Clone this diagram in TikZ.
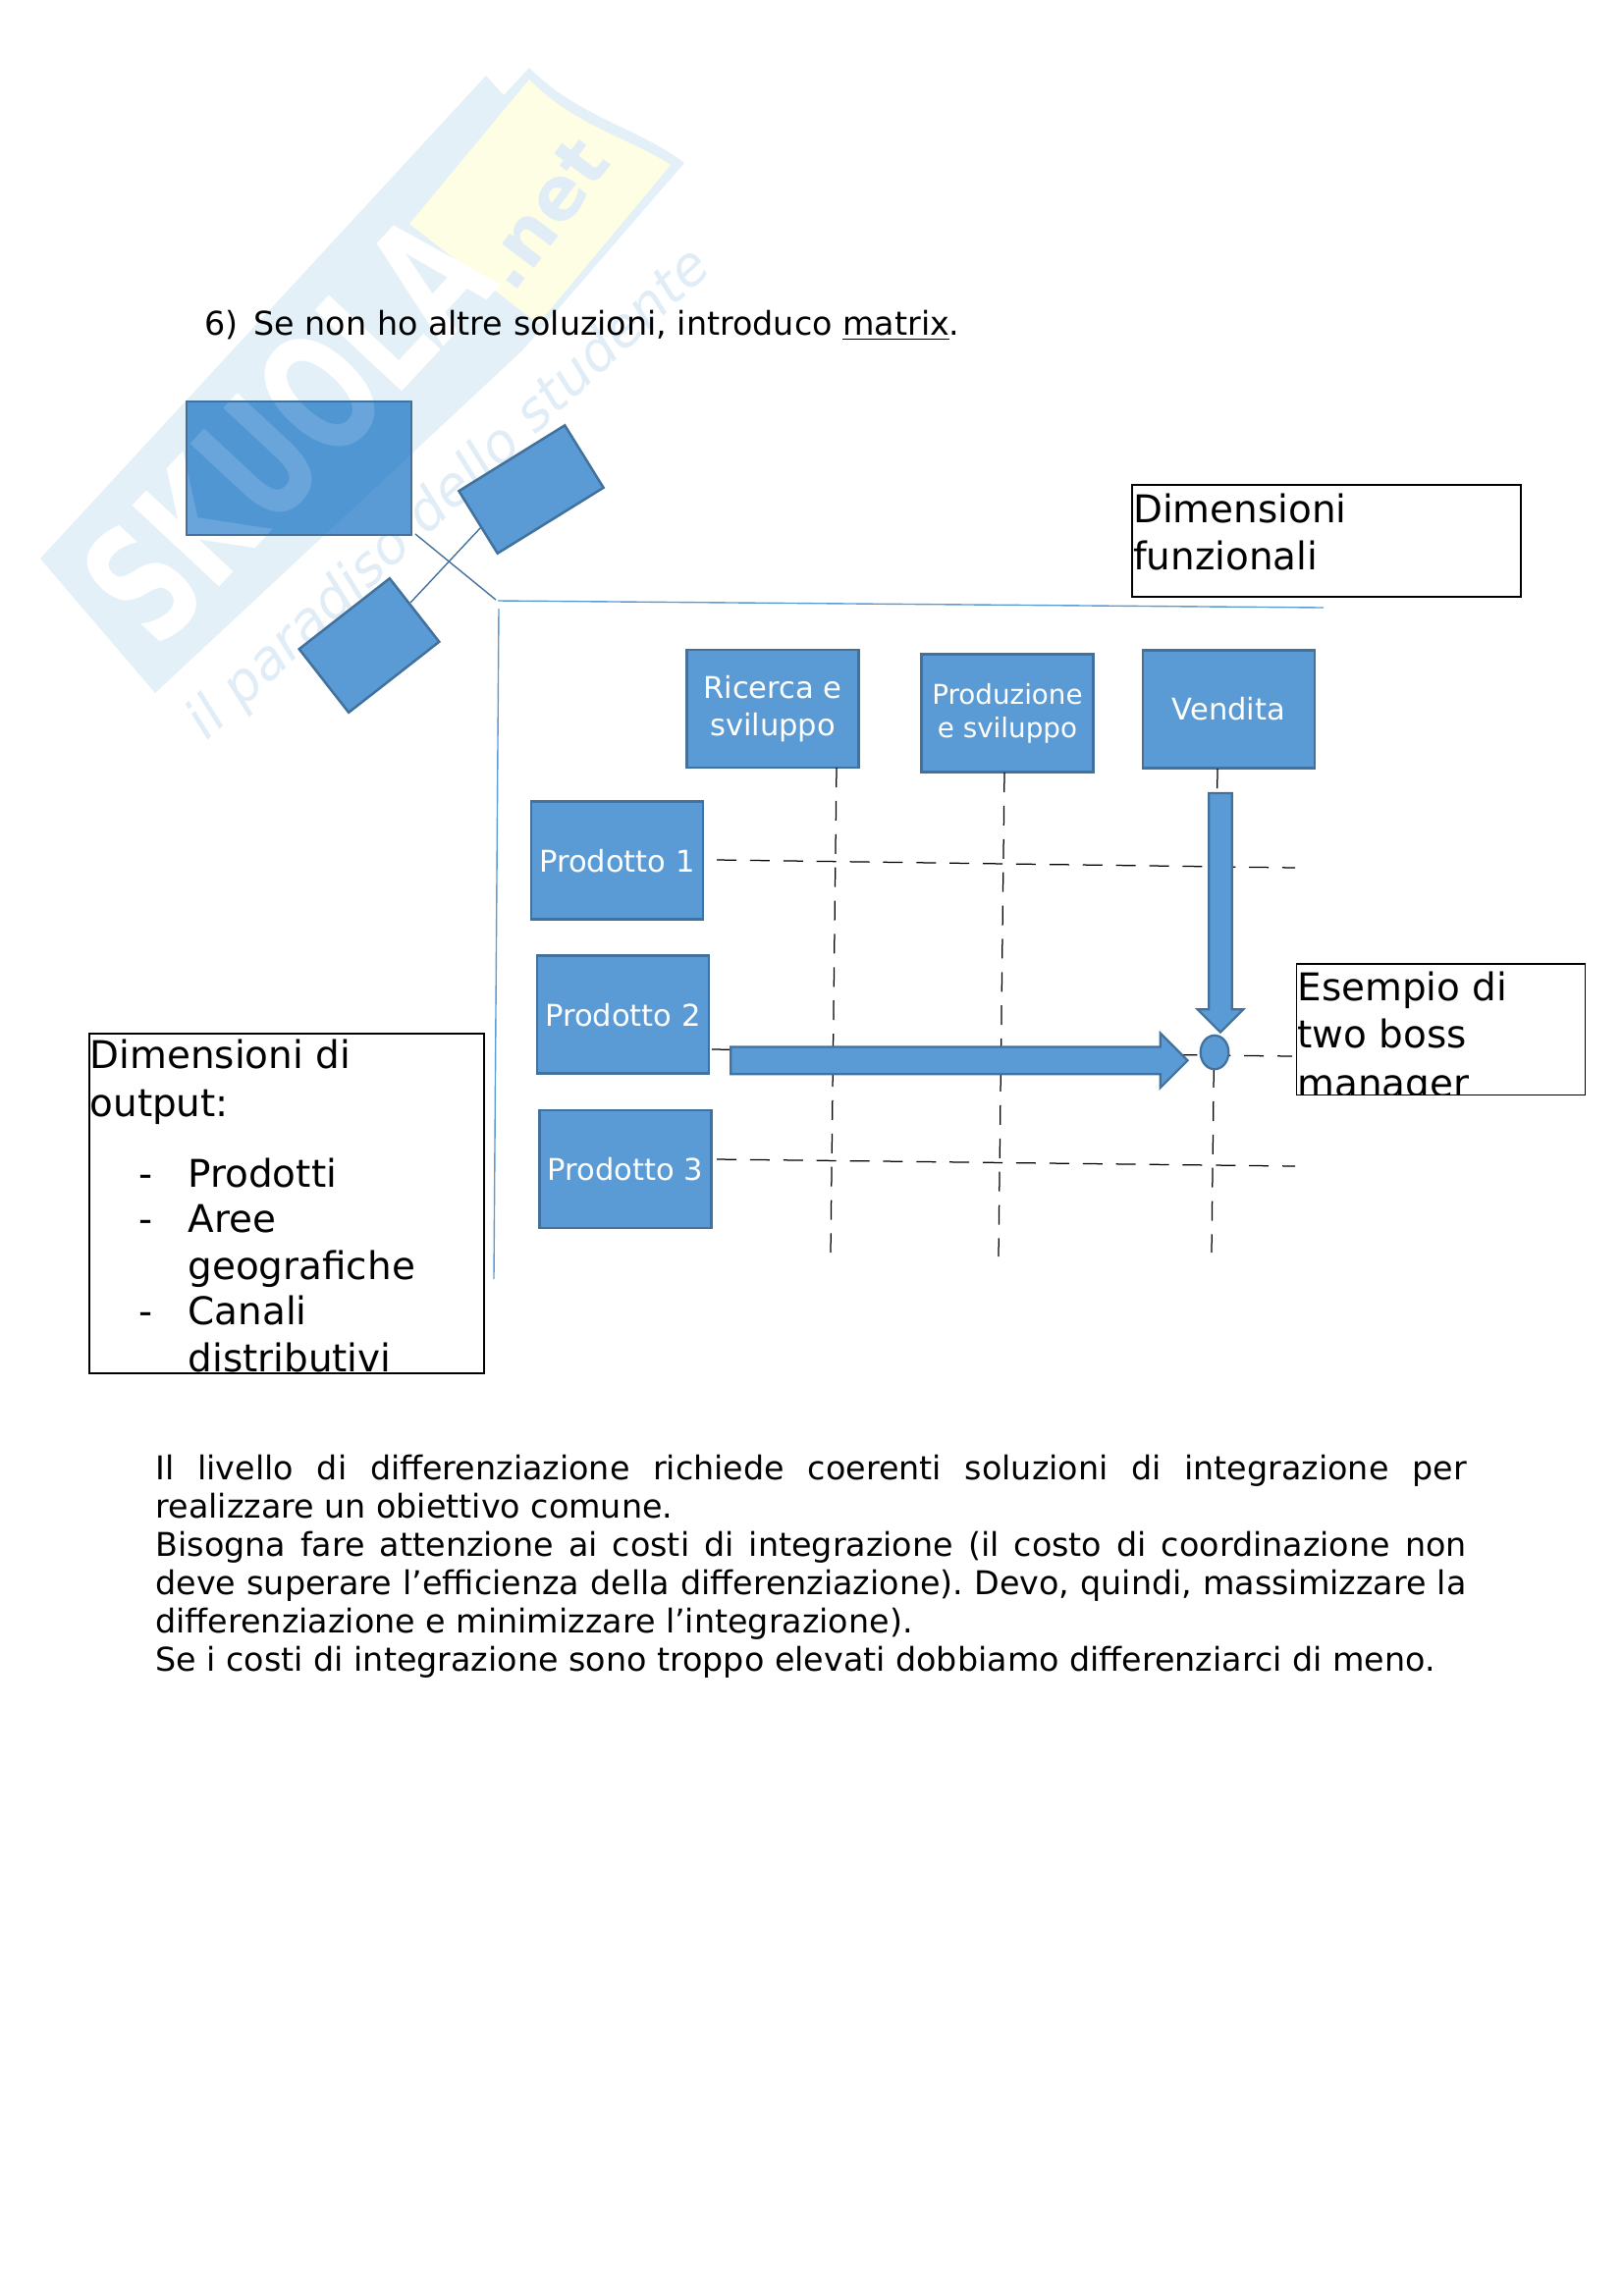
\documentclass[tikz,border=0pt]{standalone}
\usepackage{fontspec}
\setmainfont{DejaVu Sans}
\usetikzlibrary{shapes.geometric,shapes.arrows}
\definecolor{boxfill}{HTML}{5B9BD5}
\definecolor{boxline}{HTML}{41719C}
\definecolor{wmband}{HTML}{E3F0F8}
\definecolor{wmflag}{HTML}{FEFEE4}
\definecolor{wmtext}{HTML}{E0EDF7}
\definecolor{wmrectband}{HTML}{4F96D3}
\definecolor{wmrectlet}{HTML}{69A5DA}
\tikzset{
  x=0.36pt,y=-0.36pt,
  bluebox/.style={draw=boxline,fill=boxfill,line width=0.9pt,inner sep=0pt,outer sep=0pt,text=white,align=center,font=\fontsize{11}{13.7}\selectfont},
  stdbox/.style={bluebox,minimum width=63pt,minimum height=43.2pt},
  axisline/.style={draw=boxfill,line width=0.5pt},
  grid/.style={draw=black,line width=0.45pt,dash pattern=on 7.2pt off 5pt},
  framebox/.style={draw=black,line width=0.5pt,outer sep=0pt},
  boxtext/.style={anchor=base west,inner sep=0pt,font=\fontsize{14}{17.4}\selectfont},
  bodytext/.style={anchor=base west,inner sep=0pt,font=\fontsize{12}{14}\selectfont},
  blockarrow/.style={single arrow,draw=boxline,fill=boxfill,line width=0.8pt,inner sep=0pt,outer sep=0pt}
}
% watermark, drawn with chosen colours
\newcommand{\wmband}[1]{%
  \fill[#1] (41,569) -- (495,77) -- (513,97) -- (539,69) .. controls (590,120) and (650,130) .. (697,166) -- (532,357) -- (158,706) -- cycle;}
\newcommand{\wmletters}[1]{%
  \node[inner sep=0pt,text=#1,font=\fontsize{46}{46}\bfseries\selectfont,rotate=47] (wmskuola) at (292,436) {\scalebox{0.88}[1.3]{SKUOLA}};}
\begin{document}
\begin{tikzpicture}
\useasboundingbox (0,0) rectangle (1653,2339);
% watermark
\wmband{wmband}
\fill[wmflag] (539,81) .. controls (585,128) and (640,140) .. (683,168) -- (548,330) -- (417,228) -- cycle;
\wmletters{white}
\node[inner sep=0pt,text=wmtext,font=\fontsize{27}{27}\bfseries\selectfont,rotate=53] (wmnet) at (553,218) {.net};
\node[inner sep=0pt,text=wmtext,font=\fontsize{20}{20}\itshape\selectfont,rotate=43] (wmsite) at (458,504) {il paradiso dello studente};

% heading
\node[bodytext] (h6) at (208,341) {6)};
\node[bodytext] (hs) at (258,341) {Se non ho altre soluzioni, introduco \underline{matrix}.};

% top-left organisation shapes
\node[bluebox,minimum width=82.4pt,minimum height=49pt] (big) at (304.5,477) {};
\begin{scope}
  \clip (big.south west) rectangle (big.north east);
  \wmband{wmrectband}
  \wmletters{wmrectlet}
\end{scope}
\draw[draw=boxline,line width=0.9pt] (big.south west) rectangle (big.north east);
\node[bluebox,minimum width=45.7pt,minimum height=26.9pt,rotate=31.8] (rota) at (541,498.5) {};
\node[bluebox,minimum width=42.1pt,minimum height=29.5pt,rotate=38] (rotb) at (376,657.5) {};
\coordinate (corner) at (505,611);
\coordinate (bigc) at (423,544);
\coordinate (ac) at (490,537);
\coordinate (bc) at (418,614);
\coordinate (hend) at (1348,619);
\coordinate (hstart) at (507,612);
\coordinate (vstart) at (508,620);
\coordinate (vend) at (503,1303);
\draw[draw=boxline,line width=0.5pt] (bigc) -- (corner);
\draw[draw=boxline,line width=0.5pt] (ac) -- (bc);
\draw[axisline] (hstart) -- (hend);
\draw[axisline] (vstart) -- (vend);

% matrix boxes
\node[stdbox] (ric) at (787,722) {\raisebox{-0.5pt}{Ricerca e}\\\raisebox{-0.5pt}{sviluppo}};
\node[stdbox,font=\fontsize{10}{12.3}\selectfont] (pro) at (1026,726.5) {\raisebox{-0.5pt}{Produzione}\\\raisebox{-0.5pt}{e sviluppo}};
\node[stdbox] (ven) at (1251.5,722.5) {Vendita};
\node[stdbox] (p1) at (628.5,876.7) {Prodotto 1};
\node[stdbox] (p2) at (634.5,1033.7) {Prodotto 2};
\node[stdbox] (p3) at (637,1191) {Prodotto 3};

% dashed grid
\coordinate (v1a) at (852,782);
\coordinate (v1b) at (846,1276);
\coordinate (v2a) at (1023,787);
\coordinate (v2b) at (1017,1280);
\coordinate (v3a) at (1240,783);
\coordinate (v3b) at (1234,1276);
\coordinate (h1a) at (730,876);
\coordinate (h1b) at (1319,884);
\coordinate (h2a) at (725,1069);
\coordinate (h2b) at (1316,1076);
\coordinate (h3a) at (730,1181);
\coordinate (h3b) at (1319,1188);
\draw[grid] (v1a) -- (v1b);
\draw[grid] (v2a) -- (v2b);
\draw[grid] (v3a) -- (v3b);
\draw[grid] (h1a) -- (h1b);
\draw[grid] (h2a) -- (h2b);
\draw[grid] (h3a) -- (h3b);

% block arrows and crossing point
\node[blockarrow,minimum height=167.5pt,single arrow head extend=5pt] (harrow) at (970,1080.3) {\rule{0pt}{9.2pt}};
\node[blockarrow,minimum height=87.7pt,single arrow head extend=4.2pt,rotate=270] (varrow) at (1243,924) {\rule{0pt}{7.6pt}};
\node[ellipse,draw=boxline,fill=boxfill,line width=0.8pt,inner sep=0pt,minimum width=10.3pt,minimum height=12.4pt] (cross) at (1237,1072) {};

% text frames
\node[framebox,minimum width=142.6pt,minimum height=41pt,inner sep=0pt] (fdim) at (1351,551) {};
\begin{scope}
  \clip (fdim.south west) rectangle (fdim.north east);
  \node[boxtext] (fd1) at (1153.5,532) {Dimensioni};
  \node[boxtext] (fd2) at (1153.5,580) {funzionali};
\end{scope}
\node[framebox,minimum width=105.8pt,minimum height=48pt,inner sep=0pt] (fese) at (1467.4,1048.7) {};
\begin{scope}
  \clip (fese.south west) rectangle (fese.north east);
  \node[boxtext] (fe1) at (1321,1019.5) {Esempio di};
  \node[boxtext] (fe2) at (1321,1067.5) {two boss};
  \node[boxtext] (fe3) at (1321,1117) {manager};
\end{scope}
\node[framebox,minimum width=144.7pt,minimum height=124.6pt,inner sep=0pt] (fout) at (292,1226) {};
\begin{scope}
  \clip (fout.south west) rectangle (fout.north east);
  \node[boxtext] (fo1) at (91,1088) {Dimensioni di};
  \node[boxtext] (fo2) at (91,1137) {output:};
  \node[boxtext] (fd3) at (141,1209) {-};
  \node[boxtext] (fo3) at (191,1209) {Prodotti};
  \node[boxtext] (fd4) at (141,1255) {-};
  \node[boxtext] (fo4) at (191,1255) {Aree};
  \node[boxtext] (fo5) at (191,1303) {geografiche};
  \node[boxtext] (fd5) at (141,1349) {-};
  \node[boxtext] (fo6) at (191,1349) {Canali};
  \node[boxtext] (fo7) at (191,1397) {distributivi};
\end{scope}

% body paragraph
\node[bodytext,anchor=north west,text width=480.6pt,align=justify] (body) at (158,1482) {\frenchspacing
Il livello di differenziazione richiede coerenti soluzioni di integrazione per\linebreak
realizzare un obiettivo comune.\par
Bisogna fare attenzione ai costi di integrazione (il costo di coordinazione non\linebreak
deve superare l’efficienza della differenziazione). Devo, quindi, massimizzare la\linebreak
differenziazione e minimizzare l’integrazione).\par
Se i costi di integrazione sono troppo elevati dobbiamo differenziarci di meno.\par};
\end{tikzpicture}
\end{document}
